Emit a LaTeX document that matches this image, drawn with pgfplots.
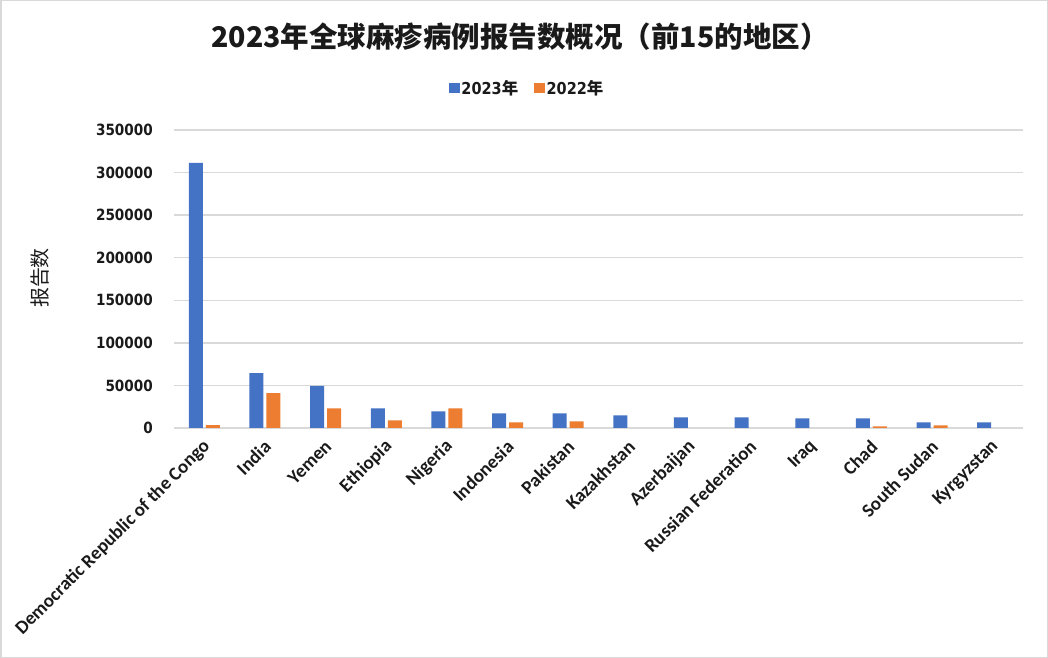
\documentclass[border=0pt]{standalone}
\usepackage{pgfplots}
\pgfplotsset{compat=1.18}
\usepackage{fontspec}
\setmainfont{Carlito}[BoldFont={Carlito Bold}]
\newfontfamily\cjk{Noto Sans CJK SC}
\newfontfamily\num{DejaVu Sans}[FakeStretch=0.88]
\definecolor{cblue}{HTML}{4472C4}
\definecolor{corange}{HTML}{ED7D31}
\definecolor{cgrid}{HTML}{D9D9D9}
\definecolor{ctext}{HTML}{1A1A1A}
\begin{document}
\begin{tikzpicture}
\useasboundingbox (0bp,0bp) rectangle (1048bp,658bp);
\draw[cgrid, line width=1.5bp] (0.75bp,0.75bp) rectangle (1047.25bp,657.25bp);
\node[font=\cjk\bfseries\fontsize{28.6}{32}\selectfont, text=ctext] at (520bp,621bp) {2023年全球麻疹病例报告数概况（前15的地区）};
\node[font=\cjk\fontsize{20}{22}\selectfont, text=ctext, rotate=90] at (40bp,380bp) {报告数};
\begin{axis}[
  at={(174bp,230bp)}, anchor=south west,
  scale only axis, width=849bp, height=298bp,
  ybar, bar width=14bp, ybar=3bp,
  xmin=-0.5, xmax=13.5, ymin=0, ymax=350000,
  xtick={0,...,13},
  xticklabels={Democratic Republic of the Congo, India, Yemen, Ethiopia, Nigeria, Indonesia, Pakistan, Kazakhstan, Azerbaijan, Russian Federation, Iraq, Chad, South Sudan, Kyrgyzstan},
  ytick={0,50000,...,350000},
  scaled y ticks=false,
  yticklabel={\pgfmathprintnumber[fixed,precision=0,1000 sep={},assume math mode=true]{\tick}},
  major tick length=0pt,
  axis line style={draw=none},
  ymajorgrids, major grid style={cgrid, line width=1.3bp},
  yticklabel style={font=\num\bfseries\fontsize{15.5}{18}\selectfont, text=ctext, inner sep=0pt, xshift=-21bp},
  xticklabel style={font=\bfseries\fontsize{19}{22}\selectfont, text=ctext, rotate=45, anchor=east, inner sep=0pt, yshift=-13bp, xshift=-9bp},
  legend style={at={(0.416,1.141)}, anchor=center, legend columns=2, draw=none, fill=none,
    font=\num\bfseries\fontsize{16.5}{18}\selectfont, text=ctext,
    /tikz/every even column/.append style={column sep=14bp}},
  legend image code/.code={\fill[#1] (0bp,-5bp) rectangle (10.5bp,5bp);},
]
\addplot[fill=cblue, draw=none] coordinates {(0,311500) (1,64400) (2,49500) (3,23100) (4,19600) (5,17200) (6,17200) (7,14900) (8,12500) (9,12500) (10,11300) (11,11300) (12,6700) (13,6700)};
\addplot[fill=corange, draw=none] coordinates {(0,3500) (1,41000) (2,23100) (3,9000) (4,23100) (5,6700) (6,7800) (11,2000) (12,3200)};
\legend{2023{\cjk 年}, 2022{\cjk 年}}
\end{axis}
\end{tikzpicture}
\end{document}
